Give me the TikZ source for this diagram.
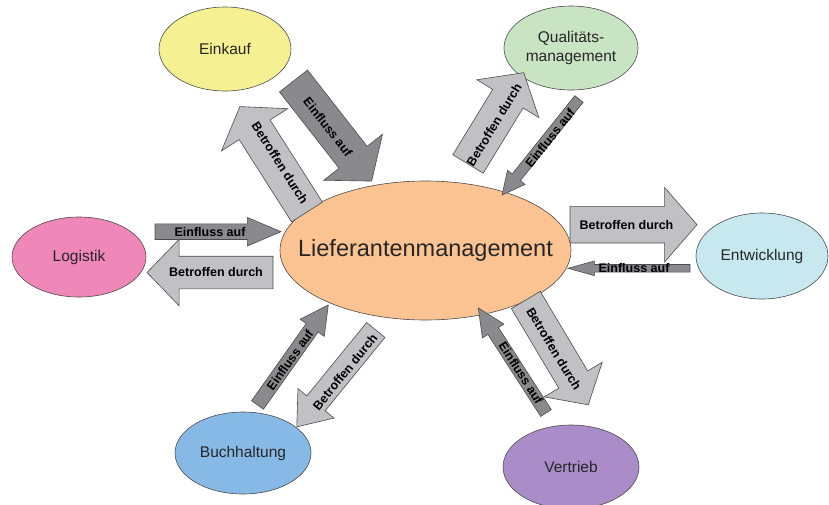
\documentclass[tikz,border=0pt]{standalone}
\usepackage{fontspec}
\setmainfont{Liberation Sans}
\usetikzlibrary{shapes.geometric,shapes.arrows}
\definecolor{peach}{RGB}{250,195,145}
\definecolor{paleyellow}{RGB}{245,240,145}
\definecolor{palegreen}{RGB}{200,228,195}
\definecolor{pink}{RGB}{240,135,185}
\definecolor{palecyan}{RGB}{200,232,240}
\definecolor{skyblue}{RGB}{135,185,230}
\definecolor{lilac}{RGB}{170,140,200}
\definecolor{darkgr}{RGB}{138,138,142}
\definecolor{lightgr}{RGB}{192,192,197}

\begin{document}
\begin{tikzpicture}[x=1pt, y=-1pt,
		bubble/.style={ellipse, draw=black!70, line width=.6pt, inner sep=0pt, align=center,
			font=\fontsize{15.5}{18.6}\selectfont, text=black!85},
		blockarrow/.style={single arrow, draw=black!70, line width=.6pt, inner sep=0pt, outer sep=0pt, anchor=tail},
		einfluss/.style={blockarrow, fill=darkgr},
		betroffen/.style={blockarrow, fill=lightgr},
		arrowtext/.style={font=\bfseries\fontsize{12.5}{14}\selectfont, inner sep=0pt}]
				\useasboundingbox (0,0) rectangle (829,504);
				% bubbles
				\node[bubble, fill=peach, minimum width=291pt, minimum height=139pt] (lm) at (425.5,250.5) {};
				\node[font=\fontsize{23.5}{28}\selectfont, text=black!85] (lm-text) at (lm) {Lieferantenmanagement};
				\node[bubble, fill=paleyellow, minimum width=132pt, minimum height=84pt] (einkauf) at (225,49) {Einkauf};
				\node[bubble, fill=palegreen, minimum width=134pt, minimum height=84pt] (quali) at (571,48) {Qualitäts-\\management};
				\node[bubble, fill=pink, minimum width=134pt, minimum height=80pt] (logistik) at (79,257) {Logistik};
				\node[bubble, fill=palecyan, minimum width=132pt, minimum height=86pt] (entw) at (762,256) {Entwicklung};
				\node[bubble, fill=skyblue, minimum width=136pt, minimum height=82pt] (buch) at (243,453) {Buchhaltung};
				\node[bubble, fill=lilac, minimum width=136pt, minimum height=84pt] (vertrieb) at (571,467) {Vertrieb};
				% Einkauf
				\node[einfluss, rotate=-52, minimum height=127pt, inner ysep=17.5pt, single arrow head extend=19.5pt, single arrow tip angle=102] (ein-in) at (293.5,81) {};
				\node[arrowtext, rotate=-52] (ein-in-text) at (328,127) {Einfluss auf};
				\node[betroffen, rotate=122.5, minimum height=125pt, inner ysep=18pt, single arrow head extend=21pt, single arrow tip angle=110] (ein-out) at (307,212) {};
				\node[arrowtext, rotate=-57.5] (ein-out-text) at (280,163) {Betroffen durch};
				% Qualitaetsmanagement
				\node[betroffen, rotate=58.6, minimum height=107pt, inner ysep=17.5pt, single arrow head extend=18.5pt, single arrow tip angle=100] (quali-out) at (468,164) {};
				\node[arrowtext, rotate=58.6] (quali-out-text) at (494,125) {Betroffen durch};
				\node[einfluss, rotate=231.3, minimum height=123pt, inner ysep=5pt, single arrow head extend=6pt, single arrow tip angle=53] (quali-in) at (579,99) {};
				\node[arrowtext, rotate=51.3] (quali-in-text) at (550,138) {Einfluss auf};
				% Logistik
				\node[einfluss, minimum height=126pt, inner ysep=7.5pt, single arrow head extend=6.5pt, single arrow tip angle=46] (log-in) at (155,231.7) {};
				\node[arrowtext] (log-in-text) at (210,232) {Einfluss auf};
				\node[betroffen, rotate=180, minimum height=126pt, inner ysep=16pt, single arrow head extend=17pt, single arrow tip angle=92] (log-out) at (273,272.5) {};
				\node[arrowtext] (log-out-text) at (216,272.5) {Betroffen durch};
				% Entwicklung
				\node[betroffen, minimum height=127pt, inner ysep=18pt, single arrow head extend=19pt, single arrow tip angle=98] (entw-out) at (570,224.7) {};
				\node[arrowtext] (entw-out-text) at (626.5,225) {Betroffen durch};
				\node[einfluss, rotate=180, minimum height=122pt, inner ysep=3.5pt, single arrow head extend=3.5pt, single arrow tip angle=31] (entw-in) at (690,268.3) {};
				\node[arrowtext] (entw-in-text) at (634,268) {Einfluss auf};
				% Buchhaltung
				\node[einfluss, rotate=54.7, minimum height=122.5pt, inner ysep=7pt, single arrow head extend=7.5pt, single arrow tip angle=56] (buch-in) at (257.5,405) {};
				\node[arrowtext, rotate=54.7] (buch-in-text) at (290,360) {Einfluss auf};
				\node[betroffen, rotate=-129.2, minimum height=125pt, inner ysep=11.5pt, single arrow head extend=11.5pt, single arrow tip angle=75] (buch-out) at (375.8,330) {};
				\node[arrowtext, rotate=50.8] (buch-out-text) at (345,372) {Betroffen durch};
				% Vertrieb
				\node[betroffen, rotate=-59.2, minimum height=122pt, inner ysep=16.5pt, single arrow head extend=17pt, single arrow tip angle=98] (vert-out) at (525.8,300) {};
				\node[arrowtext, rotate=-58.7] (vert-out-text) at (554,349) {Betroffen durch};
				\node[einfluss, rotate=122.8, minimum height=125pt, inner ysep=6pt, single arrow head extend=6.5pt, single arrow tip angle=50] (vert-in) at (546,413) {};
				\node[arrowtext, rotate=-57.2] (vert-in-text) at (521,373) {Einfluss auf};
			\end{tikzpicture}
\end{document}
